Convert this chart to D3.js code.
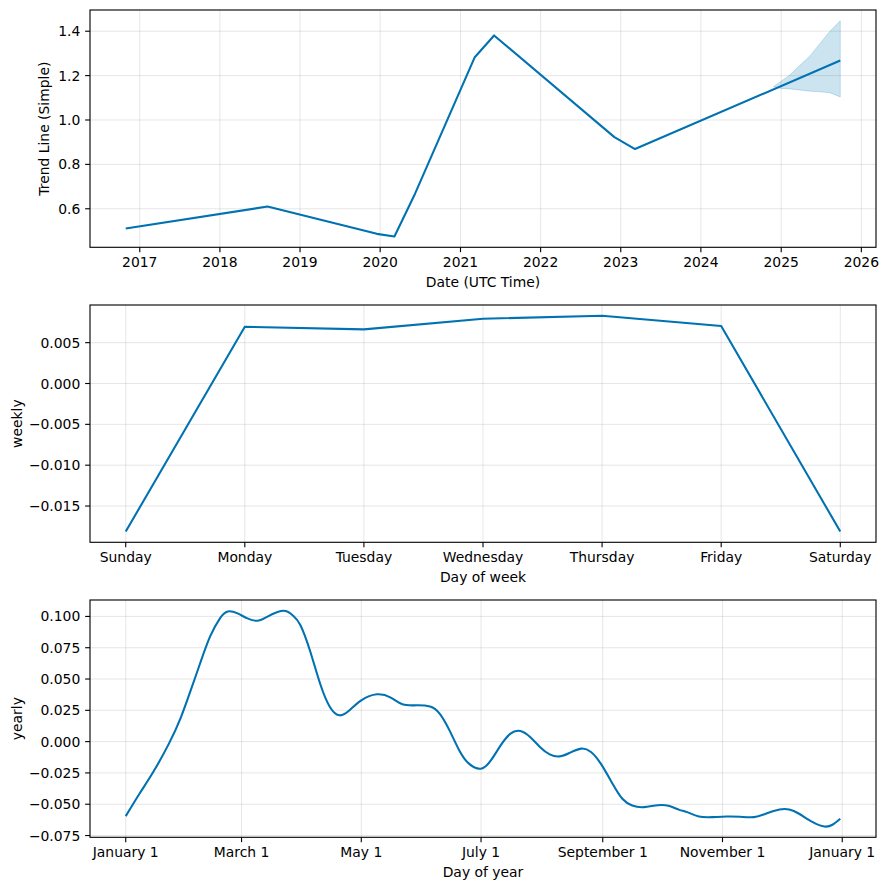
<!DOCTYPE html>
<html>
<head>
<meta charset="utf-8">
<script src="https://cdn.jsdelivr.net/npm/d3@7"></script>
<style>
  html, body { margin: 0; padding: 0; background: #fff; }
  text { font-family: "DejaVu Sans", sans-serif; font-size: 13.9px; fill: #000; }
</style>
</head>
<body>
<svg id="chart" width="888" height="890"></svg>
<script>
// ---------------- DATA ----------------
const trendDates  = ["2016-10-29","2018-08-06","2019-12-17","2020-03-06","2020-06-08","2021-03-07","2021-06-03","2022-12-03","2023-03-07","2025-09-27"];
const trendValues = [0.511, 0.610, 0.487, 0.475, 0.668, 1.283, 1.381, 0.923, 0.869, 1.268];

const bandDates = ["2024-11-27","2025-01-01","2025-02-12","2025-04-13","2025-05-13","2025-06-27","2025-08-11","2025-09-27"];
const bandUpper = [1.150, 1.175, 1.205, 1.262, 1.290, 1.345, 1.400, 1.447];
const bandLower = [1.150, 1.142, 1.140, 1.133, 1.130, 1.127, 1.123, 1.104];

const weekDays     = ["Sunday","Monday","Tuesday","Wednesday","Thursday","Friday","Saturday"];
const weeklyValues = [-0.01812, 0.00694, 0.00663, 0.00793, 0.00829, 0.00703, -0.01812];

const yearDays = [0,7,14,22,28,33,38,43,48,52,57,62,67,72,80,85,89,94,99,104,109,114,120,128,135,141,148,155,160,165,170,175,181,186,191,196,201,206,211,216,221,226,232,237,242,248,253,258,264,271,277,282,286,292,299,306,313,320,326,333,338,343,350,356,360,364];
const yearlyValues = [-0.0595,-0.0416,-0.0243,-0.0016,0.0190,0.0405,0.0630,0.0840,0.0985,0.1040,0.1024,0.0984,0.0965,0.0997,0.1045,0.1010,0.0930,0.0720,0.0464,0.0277,0.0210,0.0250,0.0330,0.0378,0.0352,0.0298,0.0290,0.0280,0.0222,0.0088,-0.0072,-0.0178,-0.0216,-0.0150,-0.0030,0.0064,0.0085,0.0037,-0.0043,-0.0102,-0.0118,-0.0091,-0.0056,-0.0083,-0.0176,-0.0336,-0.0456,-0.0510,-0.0523,-0.0508,-0.0515,-0.0545,-0.0563,-0.0598,-0.0603,-0.0598,-0.0600,-0.0603,-0.0576,-0.0542,-0.0542,-0.0576,-0.0643,-0.0678,-0.0664,-0.0616];

const trendYTicks  = [0.6, 0.8, 1.0, 1.2, 1.4];
const weeklyYTicks = [-0.015, -0.010, -0.005, 0.000, 0.005];
const yearlyYTicks = [-0.075, -0.050, -0.025, 0.000, 0.025, 0.050, 0.075, 0.100];

const trendLabelY  = "Trend Line (Simple)";
const trendLabelX  = "Date (UTC Time)";
const weeklyLabelY = "weekly";
const weeklyLabelX = "Day of week";
const yearlyLabelY = "yearly";
const yearlyLabelX = "Day of year";

// ---------------- LAYOUT ----------------
const LINE = "#0072B2";
const left = 90, right = 876, panelH = 237.3;
const tops = [10, 305, 600];
const TICK = 4.86, LW_AX = 1.11;

const svg = d3.select("#chart");
svg.append("rect").attr("width", 888).attr("height", 890).attr("fill", "#fff");

function pad(ext) { const r = ext[1] - ext[0]; return [ext[0] - 0.05 * r, ext[1] + 0.05 * r]; }

function drawPanel(top, x, y, xTicks, xFmt, yTicks, yFmt, yLabel, xLabel, yLabelX, drawData) {
  const bottom = top + panelH;
  const g = svg.append("g");
  g.selectAll(".gx").data(xTicks).enter().append("line")
    .attr("x1", d => x(d)).attr("x2", d => x(d)).attr("y1", top).attr("y2", bottom)
    .attr("stroke", "gray").attr("stroke-opacity", 0.2).attr("stroke-width", 1);
  g.selectAll(".gy").data(yTicks).enter().append("line")
    .attr("y1", d => y(d)).attr("y2", d => y(d)).attr("x1", left).attr("x2", right)
    .attr("stroke", "gray").attr("stroke-opacity", 0.2).attr("stroke-width", 1);
  const clipId = "clip" + top;
  svg.append("clipPath").attr("id", clipId).append("rect")
    .attr("x", left).attr("y", top).attr("width", right - left).attr("height", panelH);
  const dg = g.append("g").attr("clip-path", `url(#${clipId})`);
  drawData(dg);
  g.append("rect").attr("x", left).attr("y", top).attr("width", right - left).attr("height", panelH)
    .attr("fill", "none").attr("stroke", "#000").attr("stroke-width", LW_AX);
  xTicks.forEach(t => {
    g.append("line").attr("x1", x(t)).attr("x2", x(t)).attr("y1", bottom).attr("y2", bottom + TICK)
      .attr("stroke", "#000").attr("stroke-width", LW_AX);
    g.append("text").attr("x", x(t)).attr("y", bottom + 20).attr("text-anchor", "middle").text(xFmt(t));
  });
  yTicks.forEach(t => {
    g.append("line").attr("x1", left - TICK).attr("x2", left).attr("y1", y(t)).attr("y2", y(t))
      .attr("stroke", "#000").attr("stroke-width", LW_AX);
    g.append("text").attr("x", left - 9.7).attr("y", y(t)).attr("dy", "0.36em")
      .attr("text-anchor", "end").text(yFmt(t));
  });
  g.append("text").attr("x", (left + right) / 2).attr("y", bottom + 40)
    .attr("text-anchor", "middle").text(xLabel);
  g.append("text").attr("transform", `translate(${yLabelX},${top + panelH / 2}) rotate(-90)`)
    .attr("text-anchor", "middle").text(yLabel);
}

// ---------------- PANEL 1: TREND ----------------
{
  const parse = d3.utcParse("%Y-%m-%d");
  const tDates = trendDates.map(parse);
  const bDates = bandDates.map(parse);
  const tExt = d3.extent(tDates);
  const span = tExt[1] - tExt[0];
  const x = d3.scaleUtc().domain([new Date(+tExt[0] - 0.05 * span), new Date(+tExt[1] + 0.05 * span)])
    .range([left, right]);
  const allY = trendValues.concat(bandUpper, bandLower);
  const y = d3.scaleLinear().domain(pad(d3.extent(allY))).range([tops[0] + panelH, tops[0]]);
  const xTicks = x.ticks(d3.utcYear.every(1)).filter(d => x(d) >= left && x(d) <= right);
  drawPanel(tops[0], x, y, xTicks, d3.utcFormat("%Y"), trendYTicks, d3.format(".1f"),
    trendLabelY, trendLabelX, 48.5, g => {
      const band = bDates.map((d, i) => ({ d, u: bandUpper[i], l: bandLower[i] }));
      g.append("path").datum(band)
        .attr("d", d3.area().x(p => x(p.d)).y0(p => y(p.l)).y1(p => y(p.u)))
        .attr("fill", LINE).attr("fill-opacity", 0.2)
        .attr("stroke", LINE).attr("stroke-opacity", 0.2).attr("stroke-width", 1);
      const pts = tDates.map((d, i) => ({ d, v: trendValues[i] }));
      g.append("path").datum(pts)
        .attr("d", d3.line().x(p => x(p.d)).y(p => y(p.v)))
        .attr("fill", "none").attr("stroke", LINE).attr("stroke-width", 2.08).attr("stroke-linejoin", "round");
    });
}

// ---------------- PANEL 2: WEEKLY ----------------
{
  const idx = weekDays.map((d, i) => i);
  const x = d3.scaleLinear().domain(pad([0, weekDays.length - 1])).range([left, right]);
  const y = d3.scaleLinear().domain(pad(d3.extent(weeklyValues))).range([tops[1] + panelH, tops[1]]);
  drawPanel(tops[1], x, y, idx, i => weekDays[i], weeklyYTicks, d3.format(".3f"),
    weeklyLabelY, weeklyLabelX, 22, g => {
      g.append("path").datum(idx)
        .attr("d", d3.line().x(i => x(i)).y(i => y(weeklyValues[i])))
        .attr("fill", "none").attr("stroke", LINE).attr("stroke-width", 2.08).attr("stroke-linejoin", "round");
    });
}

// ---------------- PANEL 3: YEARLY ----------------
{
  const base = Date.UTC(2017, 0, 1);
  const DAY = 86400000;
  const dates = yearDays.map(d => new Date(base + d * DAY));
  const ext = d3.extent(dates);
  const span = ext[1] - ext[0];
  const x = d3.scaleUtc().domain([new Date(+ext[0] - 0.05 * span), new Date(+ext[1] + 0.05 * span)])
    .range([left, right]);
  const y = d3.scaleLinear().domain(pad(d3.extent(yearlyValues))).range([tops[2] + panelH, tops[2]]);
  const xTicks = x.ticks(d3.utcMonth.every(2)).filter(d => x(d) >= left && x(d) <= right);
  drawPanel(tops[2], x, y, xTicks, d3.utcFormat("%B %-d"), yearlyYTicks, d3.format(".3f"),
    yearlyLabelY, yearlyLabelX, 22, g => {
      const pts = dates.map((d, i) => ({ d, v: yearlyValues[i] }));
      g.append("path").datum(pts)
        .attr("d", d3.line().curve(d3.curveNatural).x(p => x(p.d)).y(p => y(p.v)))
        .attr("fill", "none").attr("stroke", LINE).attr("stroke-width", 2.08).attr("stroke-linejoin", "round");
    });
}
</script>
</body>
</html>
